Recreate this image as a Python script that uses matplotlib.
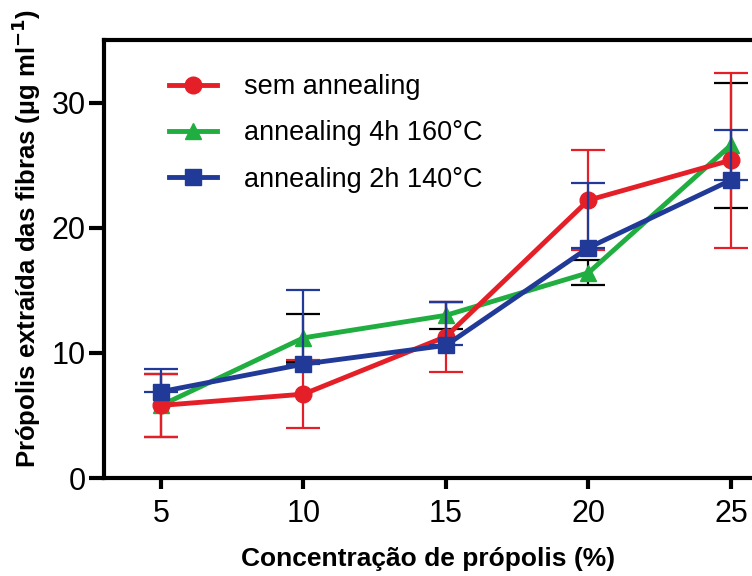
import numpy as np
import matplotlib.pyplot as plt

plt.rcParams['font.family'] = ['Liberation Sans', 'DejaVu Sans']

# concentration of propolis (%)
conc = [5, 10, 15, 20, 25]

# sem annealing
sem_mean = [5.8, 6.7, 11.3, 22.2, 25.4]
sem_err = [2.5, 2.7, 2.8, 4.0, 7.0]

# annealing 4h 160 C
a4_mean = [5.8, 11.2, 13.0, 16.4, 26.6]
a4_err = [2.5, 1.9, 1.1, 1.0, 5.0]

# annealing 2h 140 C (only upper error bar drawn)
a2_mean = [6.9, 9.1, 10.6, 18.4, 23.8]
a2_err = [1.8, 5.9, 3.5, 5.2, 4.0]

red = '#e51f27'
green = '#1fae3f'
blue = '#213a98'

fig = plt.figure(figsize=(7.52, 5.76), dpi=100)
ax = fig.add_axes([104 / 752, 98 / 576, 648 / 752, 438 / 576])

eb = dict(lw=3.5, elinewidth=1.6, capsize=12, capthick=1.6)
ax.errorbar(conc, a4_mean, yerr=a4_err, color=green, ecolor='black',
            marker='^', ms=12, zorder=3, **eb)
ax.errorbar(conc, sem_mean, yerr=sem_err, color=red,
            marker='o', ms=12, zorder=4, **eb)
ax.errorbar(conc, a2_mean, yerr=[np.zeros(len(a2_err)), a2_err], color=blue,
            marker='s', ms=11, zorder=5, **eb)

ax.set_xlim(3, 25.74)
ax.set_ylim(0, 35)
ax.set_xticks(conc)
ax.set_yticks([0, 10, 20, 30])
ax.tick_params(labelsize=22, width=3, direction='out')
ax.tick_params(axis='x', length=8, pad=7)
ax.tick_params(axis='y', length=11, pad=2)
for s in ['left', 'bottom', 'top']:
    ax.spines[s].set_linewidth(3)
ax.spines['right'].set_visible(False)

ax.set_xlabel('Concentração de própolis (%)', fontsize=19, fontweight='bold', labelpad=13)
ax.set_ylabel('Própolis extraída das fibras (µg ml$^{\\mathbf{-1}}$)', fontsize=18.5,
              fontweight='bold')
ax.yaxis.set_label_coords(-0.094, 0.548)

handles = [
    plt.Line2D([], [], color=red, lw=3.5, marker='o', ms=12),
    plt.Line2D([], [], color=green, lw=3.5, marker='^', ms=12),
    plt.Line2D([], [], color=blue, lw=3.5, marker='s', ms=11),
]
labels = ['sem annealing', 'annealing 4h 160°C', 'annealing 2h 140°C']
ax.legend(handles, labels, loc='upper left', bbox_to_anchor=(0.080, 0.953),
          borderpad=0, frameon=False, fontsize=19.5, handlelength=1.75,
          labelspacing=0.75, handletextpad=1.0)

fig.savefig('out.png', dpi=100)
